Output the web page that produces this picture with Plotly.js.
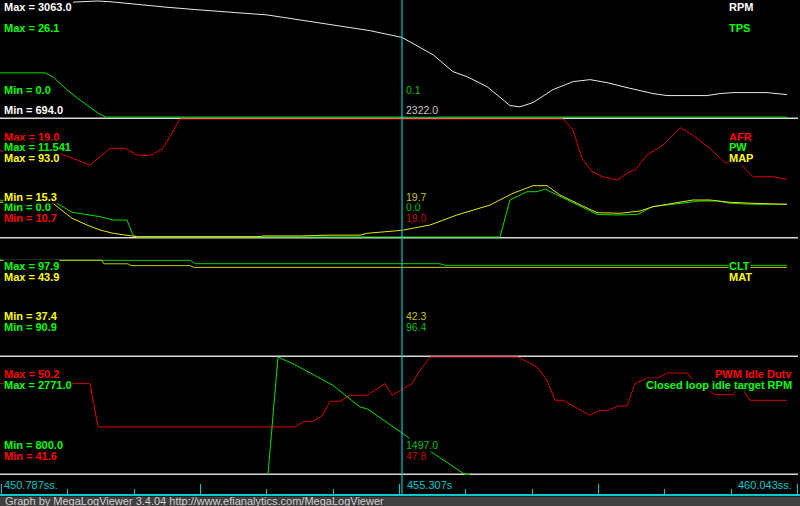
<!DOCTYPE html>
<html>
<head>
<meta charset="utf-8">
<script src="https://cdn.plot.ly/plotly-3.0.1.min.js"></script>
<style>html,body{margin:0;padding:0;background:#000;overflow:hidden}#chart{width:800px;height:506px}</style>
</head>
<body>
<div id="chart"></div>
<script>
// ================= DATA =================
const timeStart = 450.787;
const cursorTime = 455.307;
const startLabel = "450.787ss.";
const cursorLabel = "455.307s";
const endLabel = "460.043ss.";
const footerText = "Graph by MegaLogViewer 3.4.04 http://www.efianalytics.com/MegaLogViewer";

const seriesNames = ["RPM", "TPS", "AFR", "PW", "MAP", "CLT", "MAT", "PWM Idle Duty", "Closed loop idle target RPM"];
const seriesMin = [694.0, 0.0, 10.7, 0.0, 15.3, 90.9, 37.4, 41.6, 800.0];
const seriesMax = [3063.0, 26.1, 19.0, 11.541, 93.0, 97.9, 43.9, 50.2, 2771.0];
const cursorValues = [2322.0, 0.1, 19.0, 0.0, 19.7, 96.4, 42.3, 47.8, 1497.0];

const rpmT = [451.608, 451.878, 452.024, 452.361, 452.665, 453.036, 453.407, 453.789, 454.160, 454.531, 454.947, 455.307, 455.509, 455.656, 455.880, 456.038, 456.263, 456.521, 456.634, 456.780, 457.005, 457.230, 457.421, 457.612, 457.837, 458.129, 458.287, 458.737, 458.883, 459.029, 459.411, 459.636];
const rpmV = [3040, 3063, 3049, 2982, 2936, 2881, 2826, 2780, 2678, 2577, 2460, 2322, 2112, 1970, 1626, 1524, 1322, 937, 911, 998, 1261, 1423, 1464, 1403, 1302, 1180, 1140, 1140, 1180, 1200, 1200, 1160];

const tpsT = [450.787, 451.293, 451.383, 451.540, 451.653, 451.799, 451.911, 451.979, 459.636];
const tpsV = [10.0, 10.0, 9.1, 6.2, 4.4, 2.2, 0.7, 0.1, 0.1];

const afrT = [450.787, 451.439, 451.799, 452.024, 452.193, 452.327, 452.440, 452.507, 452.620, 452.811, 457.117, 457.230, 457.331, 457.444, 457.567, 457.725, 457.871, 457.927, 458.062, 458.242, 458.433, 458.545, 458.770, 458.939, 459.108, 459.254, 459.479, 459.636];
const afrV = [16.75, 16.63, 15.76, 16.94, 16.94, 16.47, 16.42, 16.52, 16.94, 19.0, 19.0, 18.23, 16.24, 15.29, 14.94, 14.71, 15.29, 15.41, 16.47, 17.17, 18.39, 17.99, 16.94, 15.93, 15.88, 14.94, 14.94, 14.76];

const pwT = [450.787, 451.349, 451.383, 451.597, 451.720, 451.911, 452.058, 452.215, 452.282, 452.327, 456.409, 456.521, 456.713, 456.825, 456.915, 457.050, 457.230, 457.500, 457.725, 457.961, 458.118, 458.287, 458.545, 458.658, 458.849, 458.995, 459.254, 459.636];
const pwV = [3.59, 3.52, 3.52, 2.42, 2.25, 1.99, 1.66, 1.66, 0.20, 0.0, 0.0, 3.62, 4.43, 4.43, 4.69, 4.11, 3.30, 2.22, 2.15, 2.22, 2.96, 3.13, 3.39, 3.52, 3.52, 3.30, 3.20, 3.20];

const mapT = [450.787, 451.349, 451.383, 451.597, 451.765, 451.911, 452.058, 452.215, 452.327, 453.710, 453.744, 454.160, 454.464, 454.835, 454.913, 455.307, 455.622, 455.925, 456.297, 456.555, 456.780, 456.937, 457.084, 457.275, 457.500, 457.758, 457.983, 458.129, 458.354, 458.579, 458.770, 458.995, 459.254, 459.636];
const mapV = [38.15, 38.15, 37.49, 27.61, 23.2, 19.91, 17.74, 16.16, 15.5, 15.5, 16.0, 16.0, 16.5, 16.5, 17.74, 19.7, 23.2, 29.79, 36.37, 44.08, 49.08, 49.08, 42.96, 37.49, 31.3, 30.91, 32.42, 35.25, 37.49, 39.66, 39.66, 38.15, 37.49, 36.83];

const cltT = [450.787, 452.923, 452.980, 455.734, 455.790, 459.636];
const cltV = [96.6, 96.6, 96.4, 96.4, 96.3, 96.3];

const matT = [450.787, 451.934, 451.956, 452.226, 452.260, 452.923, 452.968, 459.636];
const matV = [42.7, 42.7, 42.5, 42.5, 42.4, 42.4, 42.3, 42.3];

const pwmT = [450.787, 451.799, 451.889, 454.104, 454.194, 454.306, 454.408, 454.498, 454.610, 454.722, 454.913, 455.116, 455.195, 455.307, 455.419, 455.509, 455.622, 456.611, 456.825, 456.937, 457.027, 457.117, 457.421, 457.533, 457.623, 457.736, 457.837, 457.927, 458.062, 458.186, 458.287, 458.523, 458.624, 458.737, 458.827, 459.029, 459.108, 459.220, 459.636];
const pwmV = [48.25, 48.25, 45.08, 45.08, 45.44, 45.49, 45.88, 46.96, 46.96, 47.40, 47.40, 48.25, 47.40, 47.8, 48.25, 49.23, 50.2, 50.2, 49.47, 48.49, 47.03, 47.03, 45.93, 46.30, 46.30, 46.61, 46.61, 48.25, 48.66, 48.66, 49.03, 49.03, 47.84, 47.84, 47.44, 47.44, 48.13, 47.03, 47.03];

const targetT = [453.800, 453.913, 454.104, 454.531, 454.835, 454.913, 455.307, 455.419, 455.622, 456.015, 456.072];
const targetV = [800, 2771, 2642, 2296, 1932, 1904, 1497, 1374, 1194, 800, 800];

// ================= LAYOUT / STYLE =================
const W = 800, H = 506;
const FONT = "Liberation Sans, Arial, sans-serif";
const seriesT = [rpmT, tpsT, afrT, pwT, mapT, cltT, matT, pwmT, targetT];
const seriesV = [rpmV, tpsV, afrV, pwV, mapV, cltV, matV, pwmV, targetV];
const labelColor = ["#ffffff", "#00ff00", "#ff0000", "#00ff00", "#ffff00", "#00ff00", "#ffff00", "#ff0000", "#00ff00"];
const lineColor  = ["#e8e8e8", "#00e000", "#d80000", "#00e000", "#e8e800", "#00d000", "#c8c800", "#d80000", "#00e000"];
const valueColor = ["#c8c8c8", "#00c000", "#c80000", "#00c000", "#c8c800", "#00c000", "#c8c800", "#c80000", "#00c000"];
const panelOf  = [0, 0, 1, 1, 1, 2, 2, 3, 3];
const baseIdx  = [0, 0, 2, 2, 2, 5, 5, 7, 7];
const panelTop = [1, 119, 238.5, 357];
const panelBot = [117.5, 237, 356, 474.5];
const maxLabelY = [6.5, 28, 137, 147, 157.7, 266.3, 276.8, 374, 385];
const minLabelY = [109.7, 89.7, 218, 207.3, 196.8, 327, 316, 455.7, 445];
const nameX = [728, 728, 728, 728, 728, 728, 728, 793, 793];
const nameAnchor = ["left", "left", "left", "left", "left", "left", "left", "right", "right"];
const separatorsY = [118.2, 237.8, 356.3, 474.3];
const cursorPx = 402;
const baselinePx = 495;
const secPerPx = (cursorTime - timeStart) / cursorPx;

const py = px => 1 - px / H;
const axId = i => (i === 0 ? "y" : "y" + (i + 1));
const axKey = i => (i === 0 ? "yaxis" : "yaxis" + (i + 1));
const fmt = v => { const s = String(v); return s.includes(".") ? s : s + ".0"; };

const cyan = "#00c8cc";
const layout = {
  width: W, height: H,
  margin: {l: 0, r: 0, t: 0, b: 0},
  paper_bgcolor: "#000", plot_bgcolor: "rgba(0,0,0,0)",
  showlegend: false, hovermode: false,
  font: {family: FONT, size: 11, color: "#fff"},
  xaxis: {
    range: [timeStart, timeStart + W * secPerPx], domain: [0, 1],
    anchor: "free", position: py(baselinePx),
    showline: true, linecolor: cyan, linewidth: 2,
    ticks: "inside", ticklen: 10, tickwidth: 1.2, tickcolor: cyan,
    tick0: timeStart + 1.5 * secPerPx, dtick: 199 * secPerPx,
    minor: {ticks: "inside", ticklen: 5, tickwidth: 1.2, tickcolor: cyan,
            tick0: timeStart + 1.5 * secPerPx, dtick: 199 * secPerPx / 3, showgrid: false},
    showticklabels: false, showgrid: false, zeroline: false, fixedrange: true
  },
  shapes: [], annotations: []
};

const traces = [];
seriesNames.forEach((name, i) => {
  const p = panelOf[i];
  const top = panelTop[p], bot = panelBot[p];
  const pad = 1;
  const perPx = (seriesMax[i] - seriesMin[i]) / (bot - top);
  const ax = {range: [seriesMin[i] - pad * perPx, seriesMax[i] + pad * perPx],
              visible: false, showgrid: false, zeroline: false, fixedrange: true};
  if (baseIdx[i] === i) ax.domain = [Math.max(0, py(bot + pad)), Math.min(1, py(top - pad))];
  else ax.overlaying = axId(baseIdx[i]);
  layout[axKey(i)] = ax;

  traces.push({
    type: "scatter", mode: "lines", name: name,
    x: seriesT[i], y: seriesV[i], xaxis: "x", yaxis: axId(i),
    line: {color: lineColor[i], width: 1}, hoverinfo: "skip"
  });

  const common = {xref: "paper", yref: "paper", showarrow: false, yanchor: "middle", borderpad: 0, bgcolor: "#000"};
  layout.annotations.push(Object.assign({}, common, {
    x: 3 / W, y: py(maxLabelY[i]), xanchor: "left",
    text: "<b>Max = " + fmt(seriesMax[i]) + "</b>",
    font: {family: FONT, size: 11, color: labelColor[i]}
  }));
  layout.annotations.push(Object.assign({}, common, {
    x: 3 / W, y: py(minLabelY[i]), xanchor: "left",
    text: "<b>Min = " + fmt(seriesMin[i]) + "</b>",
    font: {family: FONT, size: 11, color: labelColor[i]}
  }));
  layout.annotations.push(Object.assign({}, common, {
    x: nameX[i] / W, y: py(maxLabelY[i]), xanchor: nameAnchor[i],
    text: "<b>" + name + "</b>",
    font: {family: FONT, size: 11, color: labelColor[i]}
  }));
  layout.annotations.push(Object.assign({}, common, {
    x: 405 / W, y: py(minLabelY[i]), xanchor: "left",
    text: fmt(cursorValues[i]),
    font: {family: FONT, size: 10.5, color: valueColor[i]}
  }));
});

// footer band
layout.shapes.push({type: "rect", xref: "paper", yref: "paper", x0: 0, x1: 1, y0: 0, y1: py(496.5),
  fillcolor: "#404040", line: {width: 0}, layer: "below"});
// panel separators
separatorsY.forEach(y => layout.shapes.push({type: "line", xref: "paper", yref: "paper",
  x0: 0, x1: 798 / W, y0: py(y), y1: py(y), line: {color: "#d8d8d8", width: 1.5}, layer: "below"}));
// cursor
layout.shapes.push({type: "line", xref: "x", yref: "paper", x0: cursorTime, x1: cursorTime,
  y0: py(baselinePx), y1: 1, line: {color: cyan, width: 1.2}, layer: "above"});

// time labels
const tl = {xref: "paper", yref: "paper", showarrow: false, yanchor: "middle", y: py(484.5),
  font: {family: FONT, size: 11, color: cyan}};
layout.annotations.push(Object.assign({}, tl, {x: 2 / W, xanchor: "left", text: startLabel}));
layout.annotations.push(Object.assign({}, tl, {x: 405 / W, xanchor: "left", text: cursorLabel}));
layout.annotations.push(Object.assign({}, tl, {x: 794 / W, xanchor: "right", text: endLabel}));
layout.annotations.push({xref: "paper", yref: "paper", showarrow: false, x: 3 / W, xanchor: "left",
  y: py(500.8), yanchor: "middle", text: footerText, font: {family: FONT, size: 11, color: "#d0d0d0"}});

Plotly.newPlot("chart", traces, layout, {staticPlot: true, displayModeBar: false});
</script>
</body>
</html>
